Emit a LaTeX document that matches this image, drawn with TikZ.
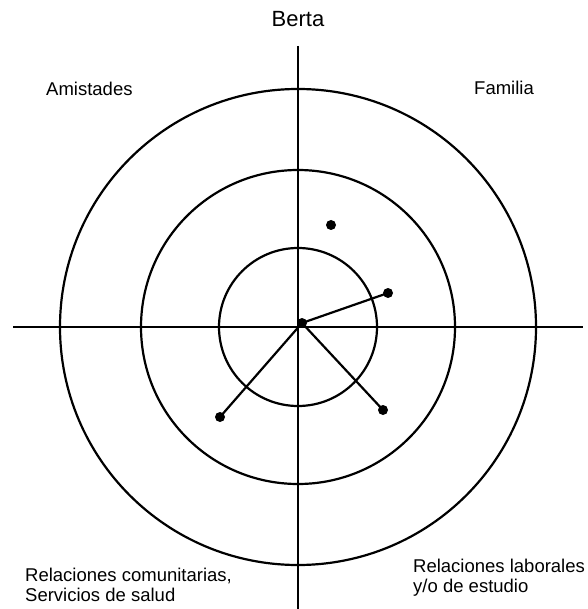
\documentclass[tikz,border=0pt]{standalone}
\usepackage{fontspec}
\setmainfont{Liberation Sans}
\usepackage{tikz}
\usetikzlibrary{positioning}
\tikzset{
    ring/.style={draw=black, line width=2.2pt},
    axis/.style={draw=black, line width=2.2pt},
    dot/.style={circle, fill=black, inner sep=0pt, minimum size=10pt},
    link/.style={draw=black, line width=2.2pt},
    sector/.style={font=\fontsize{18.5}{20}\selectfont, inner sep=0pt, align=left},
    title/.style={font=\fontsize{22}{24}\selectfont, inner sep=0pt}
}
\begin{document}
\begin{tikzpicture}[x=1pt, y=-1pt]
    \useasboundingbox (0,0) rectangle (587,609);
    % axes and circles
    \coordinate (c) at (298,327);
    \coordinate (top) at (298,46);
    \coordinate (bot) at (298,609);
    \coordinate (lft) at (13,327);
    \coordinate (rgt) at (583,327);
    \draw [axis] (top) -- (bot);
    \draw [axis] (lft) -- (rgt);
    \draw [ring] (c) circle [radius=79];
    \draw [ring] (c) circle [radius=157];
    \draw [ring] (c) circle [radius=238];

    \node (berta) [dot] at (302,323) {};
    \node (p1) [dot] at (331,225) {};
    \node (p2) [dot] at (388,293) {};
    \node (p3) [dot] at (220,417) {};
    \node (p4) [dot] at (383,410) {};
    \draw [link] (berta.center) -- (p2.center);
    \draw [link] (berta.center) -- (p3.center);
    \draw [link] (berta.center) -- (p4.center);

    \node (name) [title, anchor=base] at (298,27) {Berta};
    \node (amis) [sector, anchor=base west] at (46,96) {Amistades};
    \node (fam) [sector, anchor=base west] at (474,95) {Familia};
    \node (com) [sector, anchor=west] at (25,585) {Relaciones comunitarias,\\Servicios de salud};
    \node (lab) [sector, anchor=west] at (413,578) {Relaciones laborales\\y/o de estudio};
\end{tikzpicture}
\end{document}
